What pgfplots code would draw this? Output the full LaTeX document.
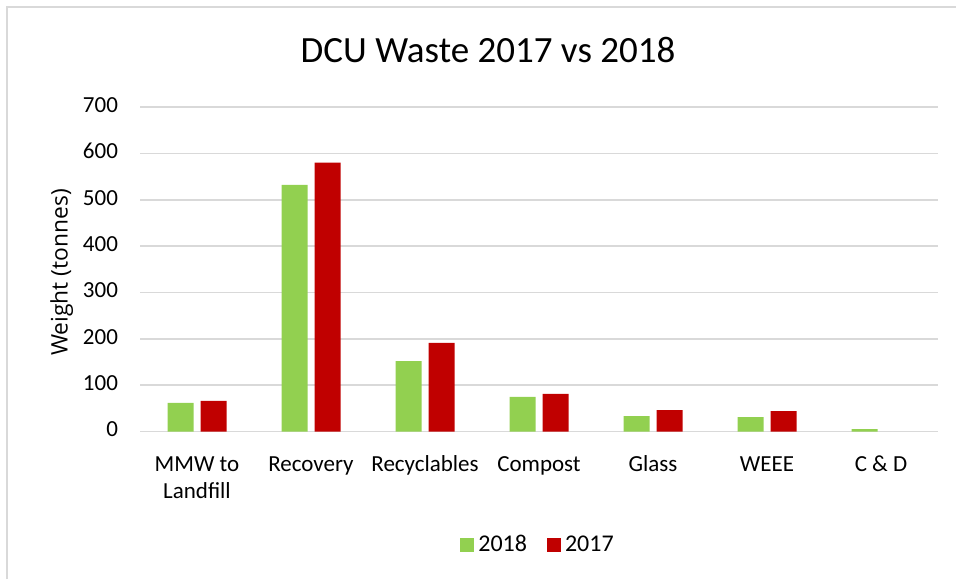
\documentclass[border=0pt]{standalone}
\usepackage{fontspec}
\setmainfont{Carlito}
\newfontfamily\labfont{Open Sans}
\usepackage{pgfplots}
\pgfplotsset{compat=1.18}
\definecolor{cgreen}{RGB}{146,208,80}
\definecolor{cred}{RGB}{192,0,0}
\definecolor{cgrid}{RGB}{217,217,217}
\begin{document}
\begin{tikzpicture}
\path[use as bounding box] (0,0) rectangle (478pt,289.5pt);
\draw[cgrid, line width=0.9pt] (3.5pt,0) -- (3.5pt,286pt) -- (478pt,286pt);
\node[font=\fontsize{18.5pt}{22pt}\selectfont] at (244pt,264.5pt) {DCU Waste 2017 vs 2018};
\begin{axis}[
  at={(70pt,73.75pt)}, anchor=south west,
  scale only axis, width=399pt, height=162.25pt,
  ybar, bar width=13pt,
  xmin=-0.5, xmax=6.5, ymin=0, ymax=700,
  ytick={0,100,...,700},
  xtick={0,...,6},
  xticklabels={{MMW to\\Landfill},Recovery,Recyclables,Compost,Glass,WEEE,{C \& D}},
  typeset ticklabels with strut,
  xticklabel style={align=center, font=\fontsize{11.5pt}{13.5pt}\selectfont, yshift=-2.5pt},
  yticklabel style={font=\fontsize{11.5pt}{13.5pt}\selectfont, xshift=-7.5pt},
  /pgf/number format/assume math mode=true,
  axis line style={draw=none},
  tick style={draw=none},
  ymajorgrids, grid style={cgrid, line width=0.8pt},
  ylabel={Weight (tonnes)},
  ylabel style={font=\labfont\fontsize{11.4pt}{14pt}\selectfont, at={(axis description cs:-0.098,0.49)}, anchor=center},
  legend columns=2,
  legend style={draw=none, at={(axis description cs:0.5,-0.35)}, anchor=center,
    font=\fontsize{12pt}{14pt}\selectfont,
    /tikz/every even column/.append style={column sep=8pt}},
  legend image code/.code={\fill[#1,draw=none] (0pt,-3.5pt) rectangle (7pt,3.5pt);},
]
\addplot[fill=cgreen, draw=none, bar shift=-8.25pt] coordinates {(0,61.5) (1,532) (2,152) (3,74.6) (4,33) (5,31) (6,5)};
\addplot[fill=cred, draw=none, bar shift=8.25pt] coordinates {(0,66) (1,580) (2,191) (3,81) (4,46) (5,44)};
\legend{2018,2017}
\end{axis}
\end{tikzpicture}
\end{document}
